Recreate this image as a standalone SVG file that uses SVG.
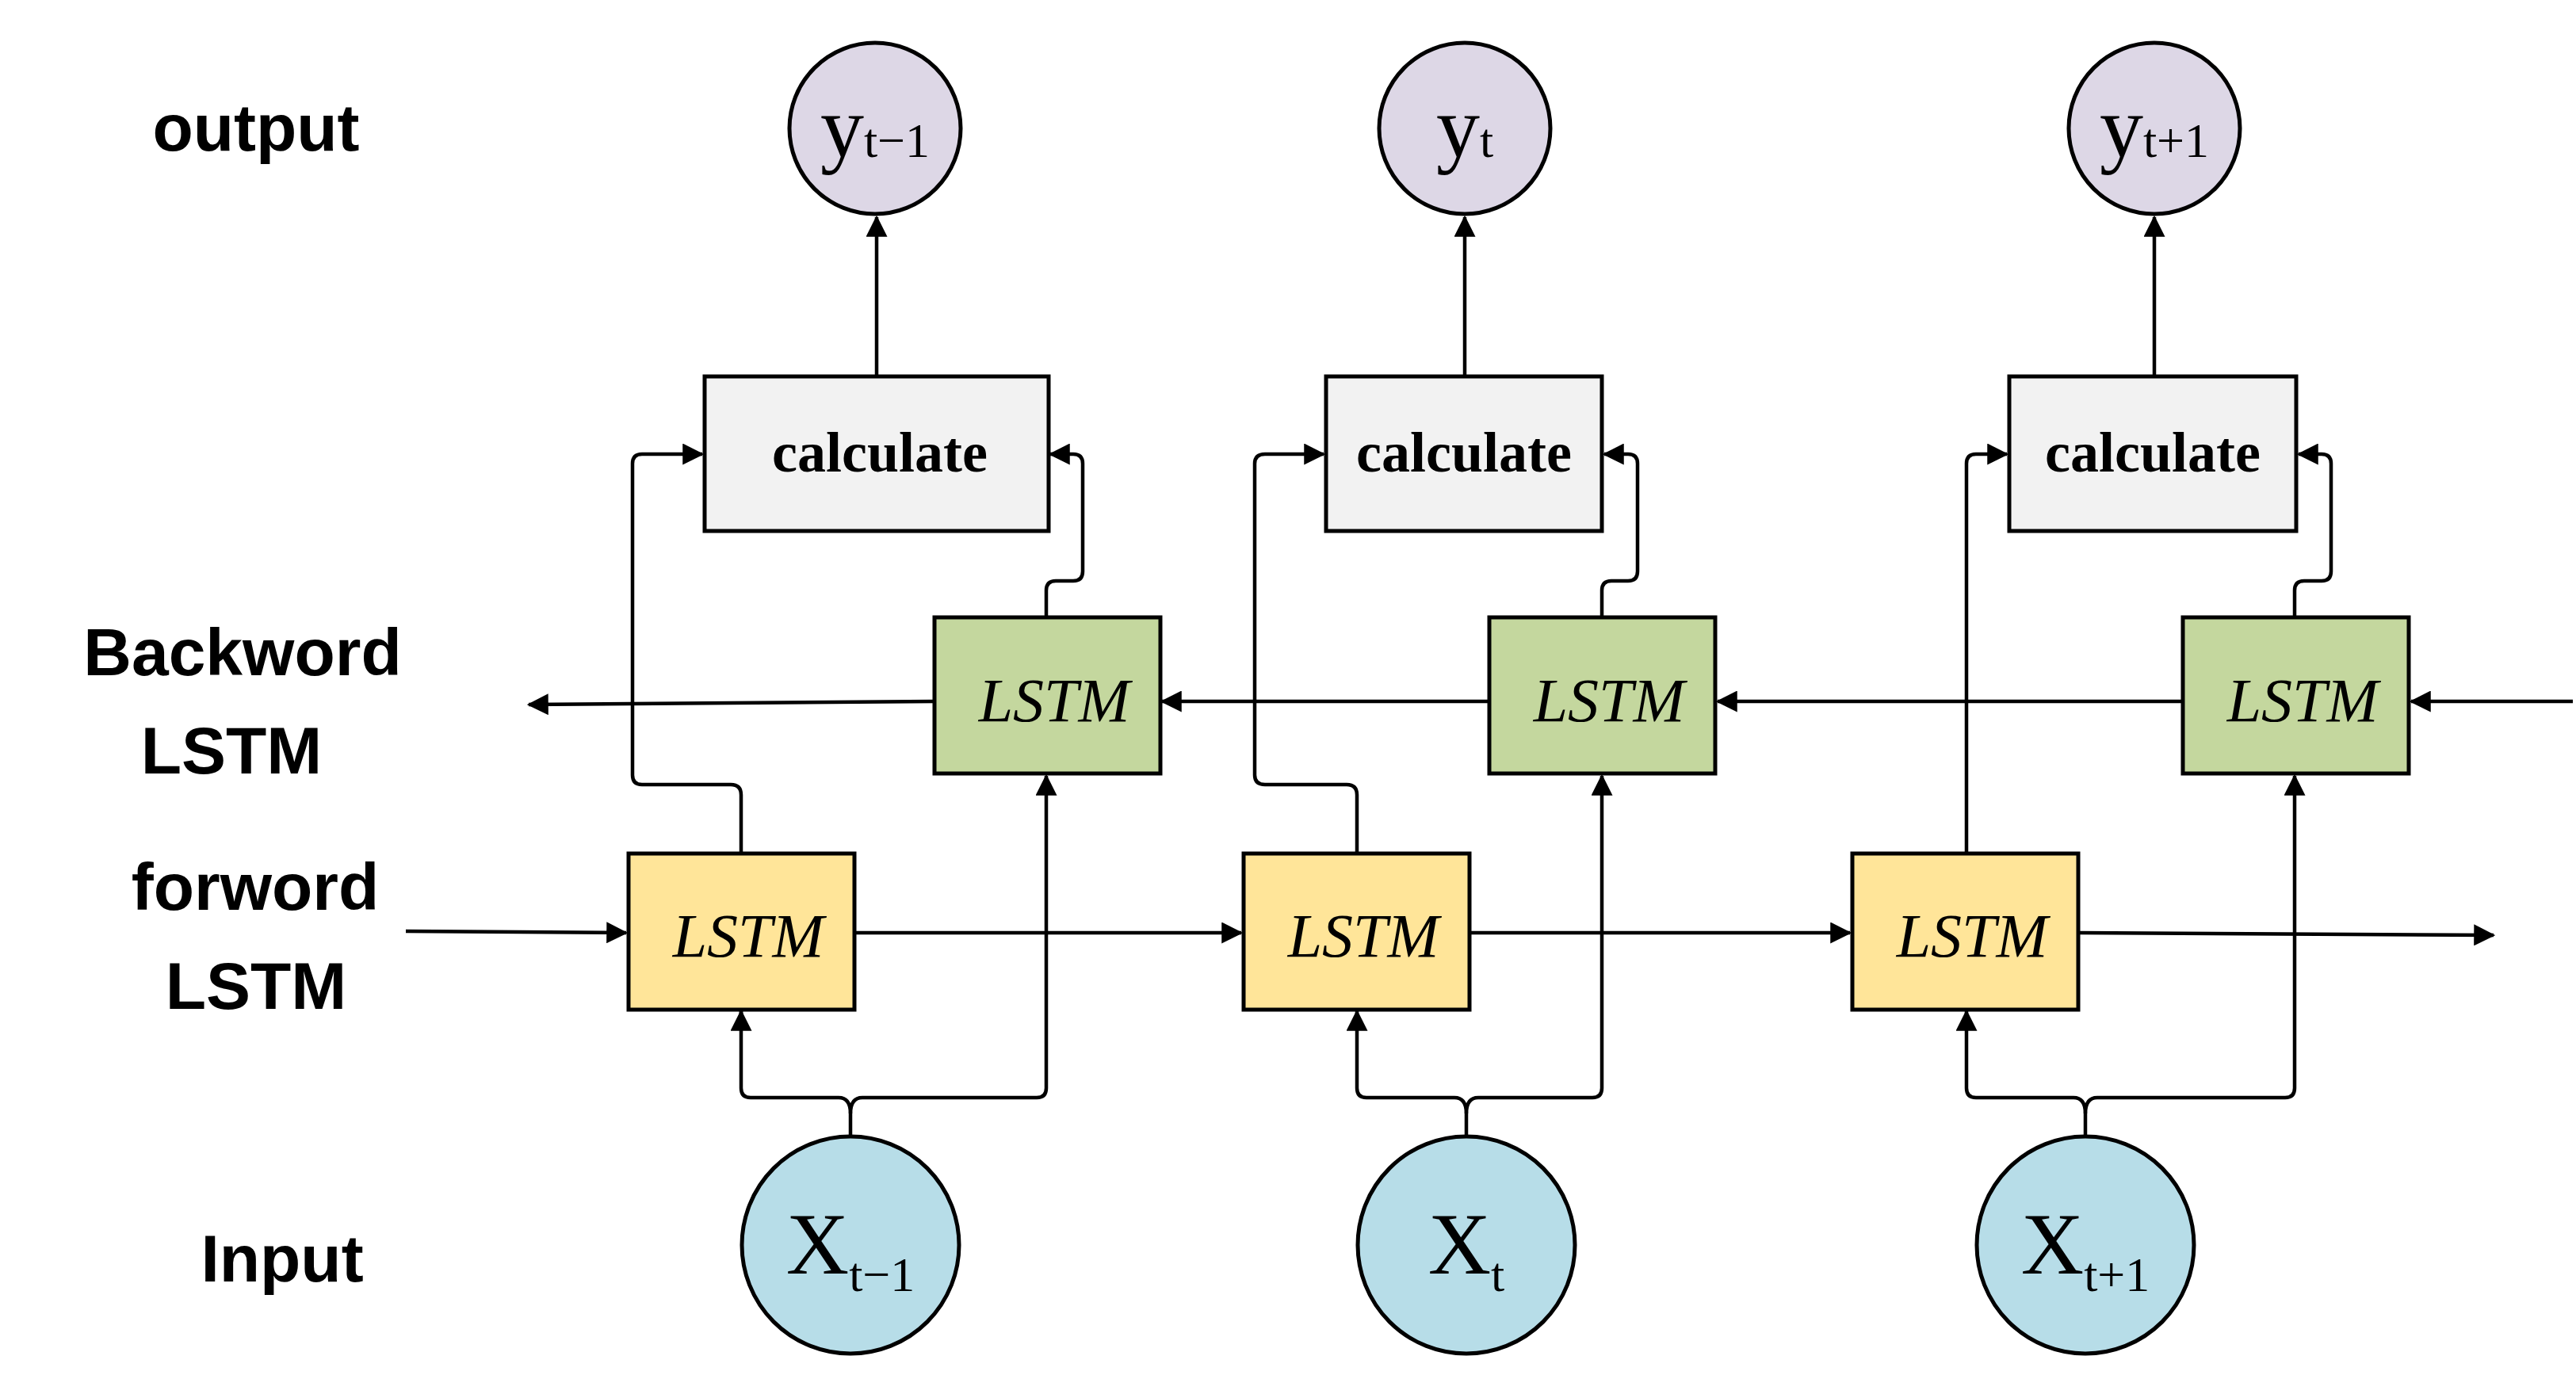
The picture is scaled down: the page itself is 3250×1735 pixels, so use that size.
<svg xmlns="http://www.w3.org/2000/svg" width="3250" height="1735" viewBox="0 0 3250 1735">
<style>
.lbl{font-family:"Liberation Sans",Arial,sans-serif;font-weight:bold;font-size:84px;text-anchor:middle;fill:#000}
.out{fill:#DDD7E6;stroke:#000;stroke-width:5}
.inp{fill:#B7DDE8;stroke:#000;stroke-width:5}
.calc{fill:#F2F2F2;stroke:#000;stroke-width:5}
.bw{fill:#C4D79E;stroke:#000;stroke-width:5}
.fw{fill:#FFE599;stroke:#000;stroke-width:5}
.ct{font-family:"Liberation Serif","Times New Roman",serif;font-weight:bold;font-size:72px;text-anchor:middle}
.lt{font-family:"Liberation Serif","Times New Roman",serif;font-style:italic;font-size:78px;text-anchor:middle}
.vt{font-family:"Liberation Serif","Times New Roman",serif;font-size:110px;text-anchor:middle}
.sub{font-size:62px}
.c{fill:none;stroke:#000;stroke-width:4.5;marker-end:url(#ah)}
.n{fill:none;stroke:#000;stroke-width:4.5}
</style>
<defs>
<marker id="ah" markerWidth="6" markerHeight="6" refX="5.5" refY="3" orient="auto" markerUnits="strokeWidth"><path d="M0,0 L6,3 L0,6 z" fill="#000"/></marker>
</defs>
<rect width="3250" height="1735" fill="#fff"/>
<g id="labels">
<text class="lbl" x="323" y="190">output</text>
<text class="lbl" x="306" y="852">Backword</text>
<text class="lbl" x="292" y="976">LSTM</text>
<text class="lbl" x="322" y="1148">forword</text>
<text class="lbl" x="323" y="1273">LSTM</text>
<text class="lbl" x="356" y="1617">Input</text>
</g>
<g id="connectors">
<!-- calc to outputs -->
<path class="c" d="M1106,475 L1106,274"/>
<path class="c" d="M1848,475 L1848,274"/>
<path class="c" d="M2718,475 L2718,274"/>
<!-- backward chain -->
<path class="c" d="M3246,885 L3042,885"/>
<path class="c" d="M2754,885 L2167,885"/>
<path class="c" d="M1879,885 L1466,885"/>
<path class="c" d="M1179,885 L667,889"/>
<!-- forward chain -->
<path class="c" d="M512,1175 L790,1177"/>
<path class="c" d="M1078,1177 L1566,1177"/>
<path class="c" d="M1854,1177 L2334,1177"/>
<path class="c" d="M2623,1177 L3146,1180"/>
<!-- forward to calc -->
<path class="c" d="M935,1077 L935,1003 Q935,990 922,990 L810,990 Q798,990 798,978 L798,585 Q798,573 810,573 L886,573"/>
<path class="c" d="M1712,1077 L1712,1003 Q1712,990 1699,990 L1596,990 Q1583,990 1583,978 L1583,585 Q1583,573 1596,573 L1670,573"/>
<path class="c" d="M2481,1077 L2481,585 Q2481,573 2493,573 L2532,573"/>
<!-- backward to calc -->
<path class="c" d="M1320,779 L1320,745 Q1320,733 1332,733 L1354,733 Q1366,733 1366,721 L1366,585 Q1366,573 1354,573 L1325,573"/>
<path class="c" d="M2021,779 L2021,745 Q2021,733 2033,733 L2054,733 Q2066,733 2066,721 L2066,585 Q2066,573 2054,573 L2024,573"/>
<path class="c" d="M2895,779 L2895,745 Q2895,733 2907,733 L2929,733 Q2941,733 2941,721 L2941,585 Q2941,573 2929,573 L2900,573"/>
<!-- inputs -->
<path class="n" d="M1073,1434 L1073,1405 Q1073,1385 1058,1385 L947,1385 Q935,1385 935,1373 L935,1276"/>
<path class="c" d="M935,1300 L935,1276"/>
<path class="c" d="M1073,1405 Q1073,1385 1088,1385 L1308,1385 Q1320,1385 1320,1373 L1320,979"/>
<path class="n" d="M1850,1434 L1850,1405 Q1850,1385 1835,1385 L1724,1385 Q1712,1385 1712,1373 L1712,1300"/>
<path class="c" d="M1712,1300 L1712,1276"/>
<path class="c" d="M1850,1405 Q1850,1385 1865,1385 L2009,1385 Q2021,1385 2021,1373 L2021,979"/>
<path class="n" d="M2631,1434 L2631,1405 Q2631,1385 2616,1385 L2493,1385 Q2481,1385 2481,1373 L2481,1300"/>
<path class="c" d="M2481,1300 L2481,1276"/>
<path class="c" d="M2631,1405 Q2631,1385 2646,1385 L2883,1385 Q2895,1385 2895,1373 L2895,979"/>
</g>
<g id="y1"><circle class="out" cx="1104" cy="162" r="108"/><text class="vt" x="1104" y="198">y<tspan class="sub">t−1</tspan></text></g>
<g id="y2"><circle class="out" cx="1848" cy="162" r="108"/><text class="vt" x="1848" y="198">y<tspan class="sub">t</tspan></text></g>
<g id="y3"><circle class="out" cx="2718" cy="162" r="108"/><text class="vt" x="2718" y="198">y<tspan class="sub">t+1</tspan></text></g>
<g id="calc1"><rect class="calc" x="889" y="475" width="434" height="195"/><text class="ct" x="1110" y="595">calculate</text></g>
<g id="calc2"><rect class="calc" x="1673" y="475" width="348" height="195"/><text class="ct" x="1847" y="595">calculate</text></g>
<g id="calc3"><rect class="calc" x="2535" y="475" width="362" height="195"/><text class="ct" x="2716" y="595">calculate</text></g>
<g id="bw1"><rect class="bw" x="1179" y="779" width="285" height="197"/><text class="lt" x="1330" y="910">LSTM</text></g>
<g id="bw2"><rect class="bw" x="1879" y="779" width="285" height="197"/><text class="lt" x="2030" y="910">LSTM</text></g>
<g id="bw3"><rect class="bw" x="2754" y="779" width="285" height="197"/><text class="lt" x="2905" y="910">LSTM</text></g>
<g id="fw1"><rect class="fw" x="793" y="1077" width="285" height="197"/><text class="lt" x="944" y="1207">LSTM</text></g>
<g id="fw2"><rect class="fw" x="1569" y="1077" width="285" height="197"/><text class="lt" x="1720" y="1207">LSTM</text></g>
<g id="fw3"><rect class="fw" x="2337" y="1077" width="285" height="197"/><text class="lt" x="2488" y="1207">LSTM</text></g>
<g id="x1"><circle class="inp" cx="1073" cy="1571" r="137"/><text class="vt" x="1073" y="1607">X<tspan class="sub" dy="22">t−1</tspan></text></g>
<g id="x2"><circle class="inp" cx="1850" cy="1571" r="137"/><text class="vt" x="1850" y="1607">X<tspan class="sub" dy="22">t</tspan></text></g>
<g id="x3"><circle class="inp" cx="2631" cy="1571" r="137"/><text class="vt" x="2631" y="1607">X<tspan class="sub" dy="22">t+1</tspan></text></g>
</svg>
